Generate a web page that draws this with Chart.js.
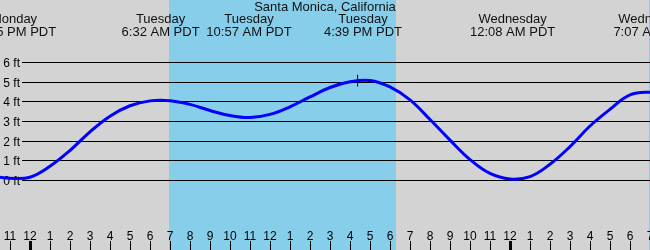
<!DOCTYPE html>
<html>
<head>
<meta charset="utf-8">
<script src="https://cdn.jsdelivr.net/npm/chart.js@4/dist/chart.umd.min.js"></script>
<style>
  html, body { margin: 0; padding: 0; background: #d3d3d3; }
  canvas { display: block; }
</style>
</head>
<body>
<canvas id="tide" width="650" height="250"></canvas>
<script>
// hours are measured from Tuesday 00:00 PDT
const title = 'Santa Monica, California';

const tideHours = [-2, -1, 0, 1, 2, 3, 4, 5, 6, 7, 8, 9, 10, 11, 12, 13, 14, 15, 16, 17, 18, 19, 20, 21, 22, 23, 24, 25, 26, 27, 28, 29, 30, 31, 32];
const tideFeet  = [0.22, 0.09, 0.14, 0.7, 1.5, 2.45, 3.25, 3.78, 4.03, 4.04, 3.85, 3.54, 3.28, 3.18, 3.34, 3.73, 4.23, 4.71, 5.0, 5.07, 4.74, 4.08, 3.08, 2.03, 1.04, 0.33, 0.05, 0.17, 0.8, 1.7, 2.75, 3.6, 4.33, 4.47, 4.4];

// current time marker
const nowHour = 16.38;
const nowFeet = 5.06;

// daylight bands [sunrise, sunset]
const daylight = [[6.95, 18.3], [30.95, 31.6]];

// high / low tide headers
const extremeHours = [-0.8, 6.53, 10.95, 16.65, 24.13, 31.12];
const extremeDays  = ['Monday', 'Tuesday', 'Tuesday', 'Tuesday', 'Wednesday', 'Wednesday'];
const extremeTimes = ['11:15 PM PDT', '6:32 AM PDT', '10:57 AM PDT', '4:39 PM PDT', '12:08 AM PDT', '7:07 AM PDT'];

const feetTicks = [0, 1, 2, 3, 4, 5, 6];
const feetLabels = ['0 ft', '1 ft', '2 ft', '3 ft', '4 ft', '5 ft', '6 ft'];

const hourTicks = [];
for (let h = -1; h <= 31; h++) hourTicks.push(h);
const hourLabels = ['11', '12', '1', '2', '3', '4', '5', '6', '7', '8', '9', '10', '11',
  '12', '1', '2', '3', '4', '5', '6', '7', '8', '9', '10', '11',
  '12', '1', '2', '3', '4', '5', '6', '7'];
const midnights = [0, 24];

const FONT = '"Liberation Sans", Arial, sans-serif';

const backdrop = {
  id: 'backdrop',
  beforeDatasetsDraw(chart) {
    const { ctx, scales: { x, y } } = chart;
    const W = chart.width, H = chart.height;
    ctx.save();
    ctx.fillStyle = '#d3d3d3';
    ctx.fillRect(0, 0, W, H);
    ctx.fillStyle = '#87ceeb';
    for (const [a, b] of daylight) {
      const x0 = Math.round(x.getPixelForValue(a)), x1 = Math.round(x.getPixelForValue(b));
      ctx.fillRect(x0, 0, x1 - x0, H);
    }

    // feet grid lines + labels
    ctx.strokeStyle = '#000';
    ctx.lineWidth = 1;
    ctx.fillStyle = '#000';
    ctx.font = '12px ' + FONT;
    ctx.textAlign = 'right';
    ctx.textBaseline = 'middle';
    feetTicks.forEach((v, i) => {
      const py = Math.round(y.getPixelForValue(v)) + 0.5;
      ctx.beginPath();
      ctx.moveTo(22, py);
      ctx.lineTo(W, py);
      ctx.stroke();
      ctx.fillText(feetLabels[i], 20, py + 1);
    });

    // hour ticks along the bottom
    ctx.textAlign = 'center';
    ctx.textBaseline = 'alphabetic';
    hourTicks.forEach((h, i) => {
      const px = Math.round(x.getPixelForValue(h));
      const w = midnights.includes(h) ? 3 : 1;
      ctx.fillRect(px - Math.floor(w / 2), 241, w, 9);
      ctx.fillText(hourLabels[i], px, 240);
    });

    // header: title + tide extremes
    ctx.font = '13px ' + FONT;
    ctx.fillStyle = '#111';
    ctx.fillText(title, W / 2, 11);
    extremeHours.forEach((h, i) => {
      const px = x.getPixelForValue(h);
      ctx.fillText(extremeDays[i], px, 23);
      ctx.fillText(extremeTimes[i], px, 36);
    });
    ctx.restore();
  }
};

new Chart(document.getElementById('tide'), {
  type: 'line',
  data: {
    datasets: [
      {
        data: tideHours.map((h, i) => ({ x: h, y: tideFeet[i] })),
        borderColor: '#0000ff',
        borderWidth: 3,
        pointRadius: 0,
        tension: 0.4,
        clip: false
      },
      {
        type: 'scatter',
        data: [{ x: nowHour, y: nowFeet }],
        pointStyle: 'cross',
        pointRadius: 6,
        borderColor: '#000',
        borderWidth: 1
      }
    ]
  },
  options: {
    responsive: false,
    animation: false,
    devicePixelRatio: 1,
    layout: { padding: 0, autoPadding: false },
    scales: {
      x: { type: 'linear', min: -1.5, max: 31, display: false },
      y: { min: -3.57, max: 9.17, display: false }
    },
    plugins: { legend: { display: false }, tooltip: { enabled: false } }
  },
  plugins: [backdrop]
});
</script>
</body>
</html>
